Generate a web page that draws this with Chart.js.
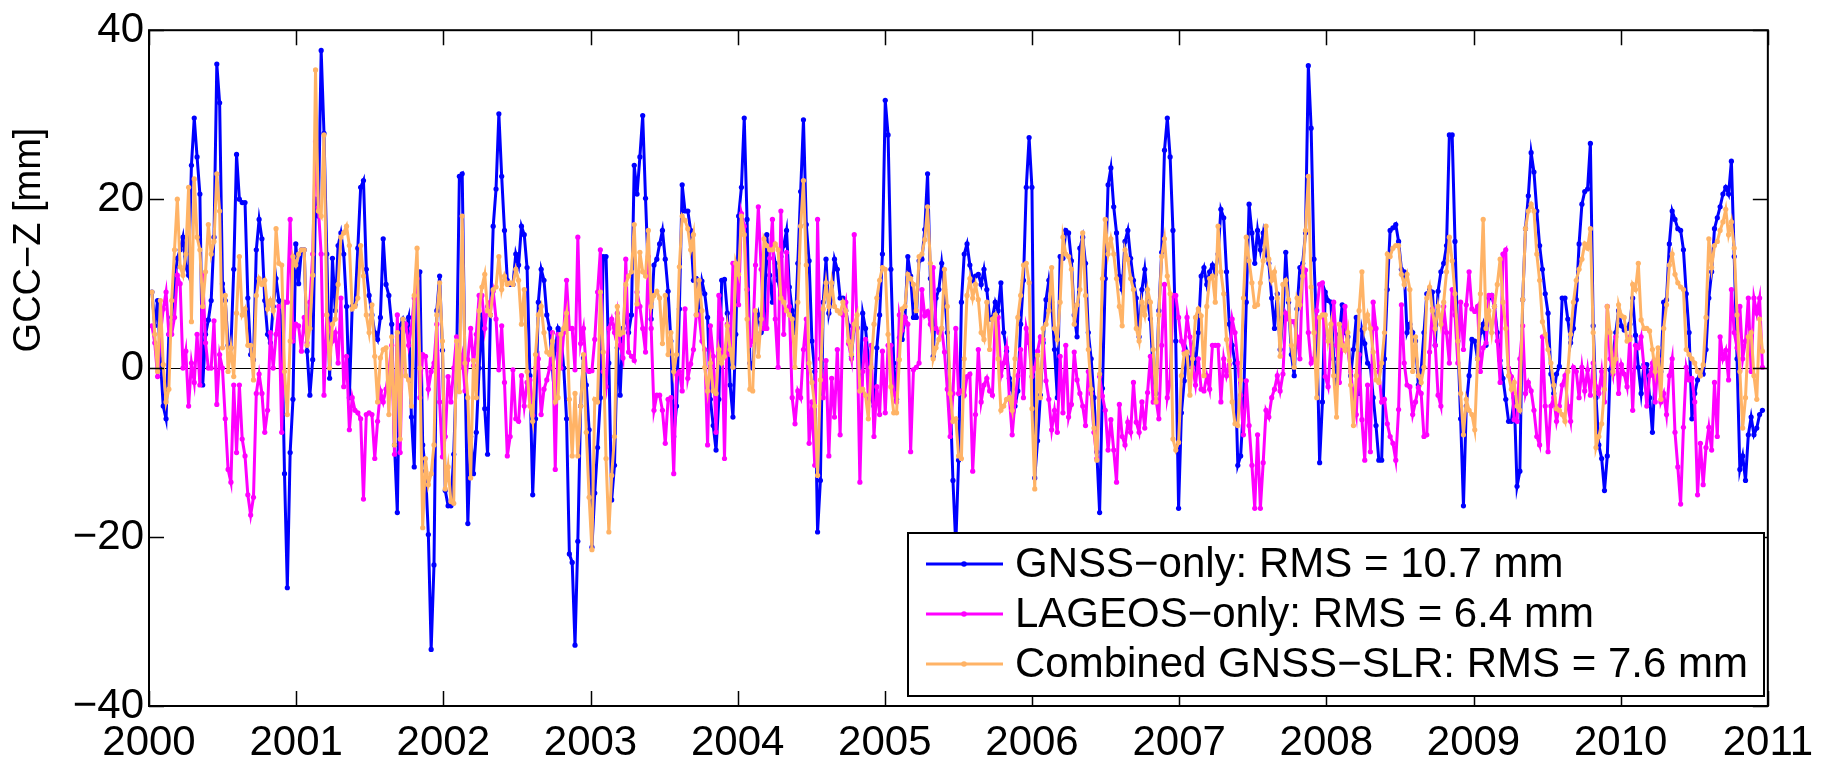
<!DOCTYPE html>
<html>
<head>
<meta charset="utf-8">
<script src="https://cdn.jsdelivr.net/npm/chart.js@4.4.1/dist/chart.umd.min.js"></script>
<style>
  html, body { margin: 0; padding: 0; background: #fff; }
  #wrap { width: 1825px; height: 761px; }
</style>
</head>
<body>
<div id="wrap"><canvas id="gccChart" width="1825" height="761"></canvas></div>
<script>
// weekly GCC-Z solutions, one row per year (52 weeks each)
const firstEpoch = 2000.02;
const weekStep = 7 / 365.25;

const gnssOnly = [
  9, 5, 8, 1, -4.5, -6, 4, 6, 10, 13, 14, 15.5, 12, 11, 24, 29.6, 25, 20.6, -2, 4, 5.7, 8, 15.5, 36, 31.4, 10, 8, 2.7, 2.4, 11.7, 25.3, 20, 19.6, 19.6, 8.3, 1.6, 1, 14, 17.6, 15.3, 8, 4, 3, 7.3, 10.6, 8, 5, -12.5, -26, -10, -3.7, 14.7,
  10, 14, 14, 2, -3.2, 1, 20, 18, 37.6, 27.8, 13.5, -1.2, 13, 6.8, 14.5, 16, 13.5, 7.3, -3.5, 7.3, 7.5, 14.2, 21.4, 22.2, 11.7, 8.6, 6.3, 4.2, 3.4, 6, 15.3, 9.9, 8.6, 5.2, -9.1, -17.1, 5, 5.8, 4.7, 6, -5.8, -11.7, 8.3, 11.4, -9.1, -12.2, -19.7, -33.3, -23.3, 6.8, 10.9, 2.1,
  -14.5, -16.3, -16.3, -10.2, 0, 22.7, 23, 0, -18.4, -8.1, -12.5, -7.6, 0, 6.3, -4.8, -10.2, 6.3, 16.8, 21.2, 30.1, 22.7, 16.3, 10.4, 9.9, 9.9, 13.5, 12.2, 16.8, 15.8, 11.9, -0.9, -15, -6, 7.8, 11.7, 10.4, 6.3, 4.7, 0, 2.2, 4.7, 3.9, 0, -6, -22, -23, -32.8, -20.5, -4.5, 1.2, -2, -7.3,
  -21.2, -14.8, -9.4, -3.5, 13.2, 13.2, 0.6, -15.6, -11.5, 2.4, -3.2, 4.7, 6.3, 4.2, 6.3, 24, 20.6, 25, 29.9, 20.1, 11.1, 5.8, 12.2, 12.9, 14.7, 16.3, 12.9, 9.1, 3.2, -8.1, -4.5, 7, 21.7, 18.6, 18.6, 16.3, 10.4, 10.6, 6.3, 10.3, 8.8, 6, -3.7, -6.8, -9.7, -3.7, 10.4, 10.5, 6.5, -2, -5.8, 4,
  18, 21.4, 29.6, 17.6, 0.6, 0, 4.7, 6.3, 4.2, 4.7, 15.8, 11, 7.8, 12.4, 10.4, 13.2, 14.5, 16.3, 9.6, 6.8, 4.2, 12.4, 20.9, 29.4, 17, 12.7, 3.2, -0.4, -19.4, -13.3, 7.8, 12.9, 6.5, 8.3, 12.9, 11.7, 8.3, 8.3, 6.8, 5, 1.4, 5, 4.8, -2.5, 6.5, 4.7, 1.1, -3.5, -4.5, 2.4, 6.3, 13.5,
  31.7, 27.6, 11.7, 0.6, -3.7, 3.6, 3.4, 6, 13.2, 10.9, 6, 6, 12.7, 12.9, 16.4, 23, 10.6, 1.4, 8.3, 9.3, 12.4, 9.3, 4.2, -3.2, -13.3, -21, -10.9, 7.8, 13.5, 14.7, 12.2, 10.4, 10.9, 11.1, 9.9, 11.7, 9.3, 5.8, 6, 7.8, 6.8, 10.1, 4.2, 2, -1.2, -2.5, -4.5, -2.7, 5.2, 10.4, 21.4, 27.3,
  21.4, -13, -8.6, -3.2, 3, 8.1, 10.4, 7.8, 2.2, -3.5, 13.2, 13, 16.3, 16, 12.7, 6.3, 3.7, 14.2, 15.5, 12.4, 4.2, 1.1, -3.5, -9.9, -17.1, -2.4, 10.6, 21.7, 23.7, 19.1, 16, 10.9, 9.3, 15, 16.3, 13, 10.4, 8.3, 3.7, 9.3, 11.7, 8.1, 5.8, -0.7, -3, 6.8, 13.7, 25.8, 29.6, 25, 16.3, 3.2,
  -16.6, -5.3, -1.5, 1.9, 0.6, 2.4, 0.4, 4.2, 10.9, 11.9, 9.9, 11.4, 12.2, 11.1, 13.5, 18.8, 17.8, 11.4, 5.2, 2.7, 0.6, -11.5, -10.4, -4.5, 7.8, 19.4, 16, 12.4, 16.3, 14, 16, 13.5, 12.4, 8.3, 4.7, 8.8, 2.2, 6, 13.7, 7.8, 1.6, -0.9, 7, 11.9, 12.4, 16, 35.8, 28.4, 12.9, 4.2, -11.2, -4,
  9, 8, 7.8, 1.1, -2, 4, 7.5, 4.2, 3.7, -0.9, 2.2, 6, -3, 4.5, 2.9, 0.6, 0.2, -3.5, -6.8, -10.9, -10.9, 1.1, 9.3, 16.3, 16.6, 17, 15, 11.7, 11.4, 4.2, 5.2, 4.2, 3.2, -2, -0.2, 4.2, 8.8, 9.3, 9, 2.7, 9.1, 11.4, 12.4, 14.5, 27.6, 27.6, 15, 3.2, -6, -16.3, -4.5, -0.9,
  3.4, 3.2, 1.1, 4.2, 5.2, 2.7, 8.3, 8.6, 7.3, 4.2, 0.9, -1.2, -3.7, -6.3, -6.3, -3.5, -14, -12.2, 8.1, 16.5, 20.4, 25.5, 23.2, 18.6, 14.5, 11.7, 8.8, 6.5, -0.7, -3, -0.7, 0.2, 8.3, 8.3, 5.8, 3, 4.7, 8.1, 14.7, 19.4, 20.9, 21.2, 26.6, 5, -3.5, -9.1, -10.7, -14.5, -10.4, -0.2, 1.4, 4.2,
  6.8, 5, 4.5, 4.7, 5.2, 8.3, 3.9, 0.1, -3, 0.4, 0.4, -3.5, -7.6, -0.4, -0.4, -0.4, 7.8, 8.1, 14.7, 18.6, 17.6, 16.5, 16.3, 14, 8.8, 4.2, -6, -3, -1.4, -0.4, -0.7, 2.2, 8.3, 11.4, 16.5, 17.8, 19.1, 20.6, 21.4, 20.6, 24.5, 13.2, 1.1, -12, -10.4, -13.3, -7.9, -5.8, -7.9, -7.1, -5.5, -5
];

const lageosOnly = [
  5, 3, -1, 4, 7, 9, 4, 4, 6, 11, 10, 0, 2, -4.5, 0.6, -1.7, 4, -2, 11, 3, 0, 0, 5.6, -4.3, 1.6, 0, -6, -12, -13.5, -2, -10, -2, -8.4, -10.4, -15, -17.4, -15.3, -3, -0.7, -3, -7.6, -5, 4.2, 0, 4, 7.3, -7.6, 7.8, 7.8, 17.6, 3.2, 5.2,
  5, 2, 6, 3, 7.8, 13.5, 26.8, 19, 13.5, -3.2, 6.3, 4.7, 3.2, 4.2, 0.6, 8.3, -2.2, 1.4, -7.3, -3.5, -5, -5.3, -6, -15.5, -5.5, -5.3, -5.5, -10.7, -6.3, -2.7, -4, -2.5, -0.4, 2.7, -10.2, 6.3, -10, 4.7, 5.2, 2.7, 4.7, 8.3, 10.6, -3.5, 1.6, 1.4, -2.5, -0.4, 0.6, 5.2, -4, -10.5,
  -8.1, -1, -4, 0, 3.7, 0, 1.5, -2.7, 1, 4.7, 0.3, 4, 8.6, 8.6, 4.7, 7.3, 7.8, 9.1, 5.8, -0.2, 5, -1.7, -10.4, -8.1, -0.2, -6, -6.3, -0.9, -4.5, -1.7, -1.4, -5.6, 0, 1.1, -5.5, -2.5, -1.4, 0, 4.2, -12, 4, 0, 4.2, 10.4, 4.7, 4.7, -0.2, 15.5, 2.9, 4.7, -0.2, -0.4,
  -0.3, 3.4, 9, 14, -0.4, -2.2, 4.7, 5.8, 4.2, 6.5, 2.7, 1.2, 12.9, 1.9, 1.4, 0.9, 9, 7.3, 4.7, 1.9, 13.2, 4.7, -5, -3.2, -3.2, -5, -8.9, -3.7, -3.5, -12.5, -0.7, -0.4, -2.7, 7, -1.2, 0.5, 2.2, 6.3, 6.3, 3.2, 2.2, -9.1, 5, 1.4, -7.6, 8.6, 5.8, -10.7, 5.2, 1.6, 12.4, 12.2,
  7.5, 18.3, 16.8, 9.3, 2.7, 3.2, 12.2, 19.1, 11.7, 4.7, 4.7, 13, 17.6, 5.8, 0.1, 18.6, 4, 13.7, 7.3, -3.5, -6.6, -2.7, -3.5, 2.2, 5.8, -8.9, -4, -11.5, 17.6, 1.1, -3.5, 0.9, -10.4, -1.2, -5.8, 2.2, -7.9, 6.3, 7.8, 2.9, 1.1, 15.8, 4.7, -13.5, -0.4, 3.4, -3.7, 2.7, -8.1, -2.2, -5.5, 2,
  -5.3, 2.7, 2.7, -3, -4, 6.3, 4.5, 6, 5.2, -9.9, -0.2, 0.1, 0.6, 9.3, 6.2, 6.7, 5.2, 11.9, 4.7, 4.2, 4.7, 1.9, -2.5, -8.1, -3, 4.7, -3, -2.7, -3.2, -1, -0.7, -12.2, -5.5, 2.2, -4, -2, -1.2, -2.7, -3.2, 5.8, 6, -0.9, 0.6, 2.4, -3.5, -7.9, -4, -0.9, 2.2, -3.5, 4.7, 3,
  -1, 0, 2, 3.7, 3.4, -1.5, -3.7, -7.3, -5, -7.6, 1.4, -5.3, 2.7, -5.8, -4.3, 1.9, -1.4, -3, -4.5, -6.8, -0.4, -3, -7.6, -10.7, -1, -3.3, -5, -9.7, -6.1, -9.7, -13.5, -4.3, -8.1, -9.1, -6.4, -7.6, -1.7, -6.4, -7.6, -4, -7.1, -2.9, 1.4, -4, -3.7, -6, 2.7, 9.9, -3.5, -1.7, 8.6, 8.6,
  6, 3.2, 2, 6, 3.7, 0.1, -2, 1.1, -2.5, -2.7, -0.9, -2.5, 2.7, 2.7, 2.7, -4, 1.1, -0.9, 0.4, 5.8, 4.2, 0.6, -3.2, -7.9, -1.5, -6.8, -11.5, -16.6, -7.9, -16.6, -11.2, -5, -5.8, -3.5, -2.5, -0.9, -2.7, -0.7, 6.5, 5.8, 5.5, 5.5, 3.7, 1.1, 11.9, 11.6, 4.2, 0.6, 1.1, 6.8, 9.9, 10.1,
  -1, -2.2, 3, 7.8, 2.7, -1.7, 3, 7.3, 2.2, -0.4, -3.5, -5.5, 1.6, -6.1, -10.9, -2, -9.9, 7.8, 4.7, -0.4, -4, -3.7, -6.6, -8.1, -8.9, -10.9, -4.9, 7.5, 0.6, -2, -2.2, -5.5, -4, -2.3, -3, -8.1, -7.9, 1.9, 7, 2.7, -3.2, -4.5, 7.3, 4.2, 0.6, 9.3, 6.3, 0.6, 7.8, 2.2, 7.5, 11.4,
  7, 6.7, 7.3, -0.4, 2.4, 3, 8.6, 8.6, 7.3, 3.2, -1.7, 13.5, 14, 0, -1, -6.1, -6.3, 1.1, 5, -3, -1.7, -2.7, -5, -8.1, -9.1, 3.7, -4.5, -9.9, -4.5, -3.5, -6.3, -4.5, -2, -0.9, -4.5, -6.3, 0.1, -0.4, -3.5, 0.1, -2.7, -0.2, -3.2, 0.6, -2.2, -3, -0.4, -4, 7.3, 1.1, -0.7, 3.7,
  -3, 0.4, -0.7, -2.2, 3.7, -5, 2.7, 2.4, 3.7, 0.1, -4.5, -0.9, 0.6, -4, 1.1, -4, -3, -5.5, -0.9, 1.1, -7.6, -11.7, -16.1, -7, 0.1, -1.4, -1.2, -4, -15, -8.9, -13.8, -9.4, -7, -9.7, -1.7, -8.1, 3.7, 1.1, 2.1, -1.4, 9.3, 4.2, 2.4, 7.3, 1.1, 3.2, 8.3, -0.4, 8.3, 6.5, 8.3, 0.1
];

const combinedSol = [
  9, 4, -0.4, 8, 0.4, -4, -2.5, 8, 14, 20, 12, 11, 13.5, 21.4, 5.5, 22.4, 15.5, 14, 7.3, 11.4, 17, 13.5, 15, 23, 18.6, 2.4, 8.6, -0.4, 2.4, -1, 6.5, 13.2, 6.3, 7, 2.7, 2.7, -1.4, 8.6, 10.6, 9.9, 10.4, 7, 8, 6.8, 16.5, 12.4, 12.2, -0.4, -5.5, 3.2, 13.2, 12.2,
  13.5, 14, 14, 2.7, 4.7, 11, 35.3, 18.6, 18, 27.6, 6.3, 0, 5.2, 5.8, 9.9, 15.5, 16, 16.8, 14.5, 7, 7.3, 8.3, 14.5, 10.9, 6.3, 4.2, 7.5, 1.4, -4, 1.2, 2.2, 2.4, -5.5, 3.7, -9.1, 4.2, -8.4, 5.8, -0.9, -1.4, -4.5, 8.6, 14.2, 0, -18.9, -10.7, -13.8, -12.5, -9.1, 6.3, 10.1, 3.2,
  -14.3, -11.7, -15.8, -16, 3.2, -2.8, 18, 0.6, -3.5, -13, 0.9, -3.5, 6.8, 9.6, 11.1, 6.8, 6.3, 9.3, 9.6, 13.2, 9.3, 10.9, 9.9, 10.1, 9.9, 11.7, 10.4, 5.2, 9.3, -0.4, -4.5, -6.3, 1.6, 6.3, 7.3, 4.2, 1.9, 1.6, 3.2, -4, -3.5, 4, 4.7, 6.5, -3.7, -10.4, -3, -10.4, -4.5, 1.6, -7.6, -15.3,
  -21.5, -3.7, -4, 9, 1.9, -10.7, -19.4, -12.7, -8.1, 7.3, 4, 4.2, 9.9, 10.9, 11.4, 17, 7.6, 13.7, 11.4, 10.9, 16.3, 7.3, 8.6, 9.1, 8.3, 2.9, 8.6, 1.6, 4.2, -0.4, 1.6, 12, 18, 17.5, 16.5, 14, 15.8, 6.3, 10.4, 6.8, 0.1, -2.7, 0.6, -2.7, -3, 2.2, 0.6, 1.4, 5, 2.2, 0.1, 12.4,
  11.1, 18, 15.8, 5.8, -2.5, -2.7, 6.8, 1.4, 5.8, 15.3, 14.5, 14, 14, 14.7, 14, 8.3, 7.8, 6.8, 6.3, 5.8, 0.1, 7.8, 16.8, 22.2, 12.2, 0.6, -1.7, -4.5, -12.7, -1.4, 7, 10.1, 7.3, 10.1, 7.3, 6.8, 6.5, 7.8, 6.8, 3.2, 1.6, 5.2, 6.3, -2.7, -2.5, -3.2, -6, 0.1, 5.2, 8.3, 10.4, 11.9,
  11.7, 4, -2.2, -5.3, -5.3, 1, 7, 7.3, 11.1, 10.6, 9.9, 6.8, 13.2, 13.5, 15.2, 19.1, 12.4, 1.1, 2.4, 3.4, 4.7, 11.7, 7.3, -3, -6.3, -6, -10.4, -10.7, 1.1, 8.6, 10.6, 8.3, 9.9, 8.1, 4.2, 3.4, 7.8, 2.2, 5.8, 6.3, 1.1, -5, -4.5, -3.7, -3.5, -5, 1.1, 6, 8.6, 12.2, 12.4, 10.1,
  -4.8, -14.3, 1.5, -3.5, 4.7, 5.2, 6.8, 11.9, 4.7, 3.4, 7.8, 15.5, 13.5, 13.2, 11.7, 5.2, 7.5, 9.3, 16, 8.6, 2.2, -2.5, -7.1, -10.9, -0.7, 10.6, 17.6, 13.5, 15.3, 13.5, 10.6, 7.3, 5, 14, 12.9, 10.6, 9.3, 4.7, 3.2, 7.8, 6.3, 9.3, 7.8, 2.2, -4, 6.3, 13.2, 15.3, 10.9, 8.8, -8.4, -9.7,
  -8.8, -0.9, 1.7, 1.9, -3.2, 1.1, 6, 7, 6.2, -0.9, 7.3, 10.6, 10.9, 7.8, 16.8, 11.4, 8.8, 3.4, 0.9, -4, -6.6, -6.8, -1.4, 8.3, 15.5, 12.7, 10.1, 7.3, 7.5, 10.1, 12.7, 16.8, 12.9, 10.4, 11.4, 8.3, 1.4, 9.9, 10.4, 8.1, 2.7, 0.1, 8.3, 7.5, 10.9, 16.3, 22.7, 9.6, 4.2, -3.5, 6, 6.3,
  6.3, 3.2, 5.2, -0.9, -5.8, 5.2, 2.7, 2.1, 4.2, -2, -6.8, -0.9, 6.8, 11.4, 4.7, 6.3, 4.7, 1.9, -1.4, -1.7, 0.6, 4.2, 13.5, 13.2, 14.2, 14.5, 14.5, 11.1, 9.9, 11.1, 9.3, -0.4, 3.7, -0.9, -1.7, 0.1, 8.3, 9.6, 6.8, 4.7, 7.3, 5.2, 7.8, 11.4, 15.5, 12.7, 8.8, 3.2, -3, -7.9, -3.7, -5,
  -5.5, -7.3, 1.1, 8.8, 17.6, 4.7, 6.8, 4.2, 7.3, 9.9, 12.9, 7.8, 4.7, -0.9, -2.5, -1.7, -4.5, -5, 8.1, 16.5, 18.6, 19.4, 18.6, 13.5, 10.4, 5.5, 4, 2.2, 0.6, -2, -4.8, -5, -5.5, -6.3, -0.4, 4, 7.8, 10.4, 11.7, 12.9, 14.7, 14.2, 16.5, 4.2, -9.4, -8.1, -6.6, -2.5, 7.3, 4.2, -0.4, 1.1,
  7.5, 6.2, 6, 3.2, 3.4, 9.9, 9.3, 12.4, 5.7, 4.7, 4.7, 4.4, 2.2, -0.4, 2.4, -3.7, 4.7, 7.5, 12.2, 13.5, 11.1, 10.1, 9.6, 9.3, 2.2, 1.6, 1.1, 0.6, -0.4, -0.9, 0.4, 6, 15.3, 11.9, 14.5, 15, 16.3, 17.3, 18.8, 15.8, 17.3, 14.2, 6.3, -0.4, -7.1, -3.5, 3.7, 4.2, -0.9, -3.7, 5.8, 2
];

const seriesLabels = [
  'GNSS\u2212only: RMS = 10.7 mm',
  'LAGEOS\u2212only: RMS = 6.4 mm',
  'Combined GNSS\u2212SLR: RMS = 7.6 mm'
];
const seriesColors = ['#0000ff', '#ff00ff', '#ffb366'];
const yearTicks = [2000, 2001, 2002, 2003, 2004, 2005, 2006, 2007, 2008, 2009, 2010, 2011];
const zTicks = [-40, -20, 0, 20, 40];

const FONT = '"Liberation Sans", Arial, Helvetica, sans-serif';
const minus = v => (v < 0 ? '\u2212' + Math.abs(v) : String(v));
const toPoints = vals => vals.map((v, i) => ({ x: firstEpoch + i * weekStep, y: v }));

// box, inward ticks, zero line, legend and y title (matlab-like frame)
const framePlugin = {
  id: 'frame',
  beforeDatasetsDraw(chart) {
    const { ctx, chartArea: a, scales: { y } } = chart;
    const y0 = Math.round(y.getPixelForValue(0)) + 0.5;
    ctx.save();
    ctx.strokeStyle = '#000';
    ctx.lineWidth = 1.2;
    ctx.beginPath();
    ctx.moveTo(a.left, y0);
    ctx.lineTo(a.right, y0);
    ctx.stroke();
    ctx.restore();
  },
  afterDatasetsDraw(chart) {
    const { ctx, chartArea: a, scales: { x, y } } = chart;
    const tl = 15;
    ctx.save();
    ctx.strokeStyle = '#000';
    ctx.lineWidth = 1.5;
    ctx.beginPath();
    yearTicks.forEach(t => {
      const px = Math.round(x.getPixelForValue(t)) + 0.5;
      ctx.moveTo(px, a.bottom); ctx.lineTo(px, a.bottom - tl);
      ctx.moveTo(px, a.top); ctx.lineTo(px, a.top + tl);
    });
    zTicks.forEach(t => {
      const py = Math.round(y.getPixelForValue(t)) + 0.5;
      ctx.moveTo(a.left, py); ctx.lineTo(a.left + tl, py);
      ctx.moveTo(a.right, py); ctx.lineTo(a.right - tl, py);
    });
    ctx.stroke();
    ctx.lineWidth = 2;
    ctx.strokeRect(a.left, a.top, a.right - a.left, a.bottom - a.top);

    // legend box inside the axes, lower right
    const lx = 908, ly = 533, lw = 1764 - 908, lh = 696 - 533;
    ctx.fillStyle = '#fff';
    ctx.fillRect(lx, ly, lw, lh);
    ctx.lineWidth = 2;
    ctx.strokeRect(lx, ly, lw, lh);
    const rows = [564, 614, 664];
    ctx.font = '42px ' + FONT;
    ctx.textAlign = 'left';
    ctx.textBaseline = 'middle';
    seriesLabels.forEach((label, i) => {
      const ry = rows[i];
      ctx.strokeStyle = seriesColors[i];
      ctx.lineWidth = 3;
      ctx.beginPath();
      ctx.moveTo(926, ry);
      ctx.lineTo(1003, ry);
      ctx.stroke();
      ctx.fillStyle = seriesColors[i];
      ctx.beginPath();
      ctx.arc(964, ry, 2.8, 0, Math.PI * 2);
      ctx.fill();
      ctx.fillStyle = '#000';
      ctx.fillText(label, 1015, ry + 1);
    });

    // y axis title
    ctx.translate(30, 240);
    ctx.rotate(-Math.PI / 2);
    ctx.textAlign = 'center';
    ctx.textBaseline = 'middle';
    ctx.font = '38px ' + FONT;
    ctx.fillStyle = '#000';
    ctx.fillText('GCC\u2212Z [mm]', 0, 0);
    ctx.restore();
  }
};

Chart.defaults.font.family = FONT;
Chart.defaults.color = '#000';

const datasets = [gnssOnly, lageosOnly, combinedSol].map((vals, i) => ({
  label: seriesLabels[i],
  data: toPoints(vals),
  borderColor: seriesColors[i],
  backgroundColor: seriesColors[i],
  borderWidth: 3,
  pointRadius: 2.6,
  pointBorderWidth: 0,
  pointBackgroundColor: seriesColors[i],
  tension: 0,
  order: 2 - i
}));

new Chart(document.getElementById('gccChart').getContext('2d'), {
  type: 'line',
  data: { datasets },
  options: {
    responsive: false,
    animation: false,
    events: [],
    devicePixelRatio: 1,
    layout: { padding: { top: 23, right: 48, left: 0, bottom: 0 } },
    plugins: {
      legend: { display: false },
      tooltip: { enabled: false }
    },
    scales: {
      x: {
        type: 'linear',
        min: 2000,
        max: 2011,
        afterFit: s => { s.height = 55; },
        afterBuildTicks: s => { s.ticks = yearTicks.map(v => ({ value: v })); },
        grid: { display: false, drawTicks: false },
        border: { display: false },
        ticks: {
          font: { size: 42 },
          color: '#000',
          padding: 12,
          maxRotation: 0,
          autoSkip: false,
          callback: v => String(v)
        }
      },
      y: {
        type: 'linear',
        min: -40,
        max: 40,
        afterFit: s => { s.width = 149; },
        afterBuildTicks: s => { s.ticks = zTicks.map(v => ({ value: v })); },
        grid: { display: false, drawTicks: false },
        border: { display: false },
        ticks: {
          font: { size: 42 },
          color: '#000',
          padding: 5,
          callback: v => minus(v)
        }
      }
    }
  },
  plugins: [framePlugin]
});
</script>
</body>
</html>
